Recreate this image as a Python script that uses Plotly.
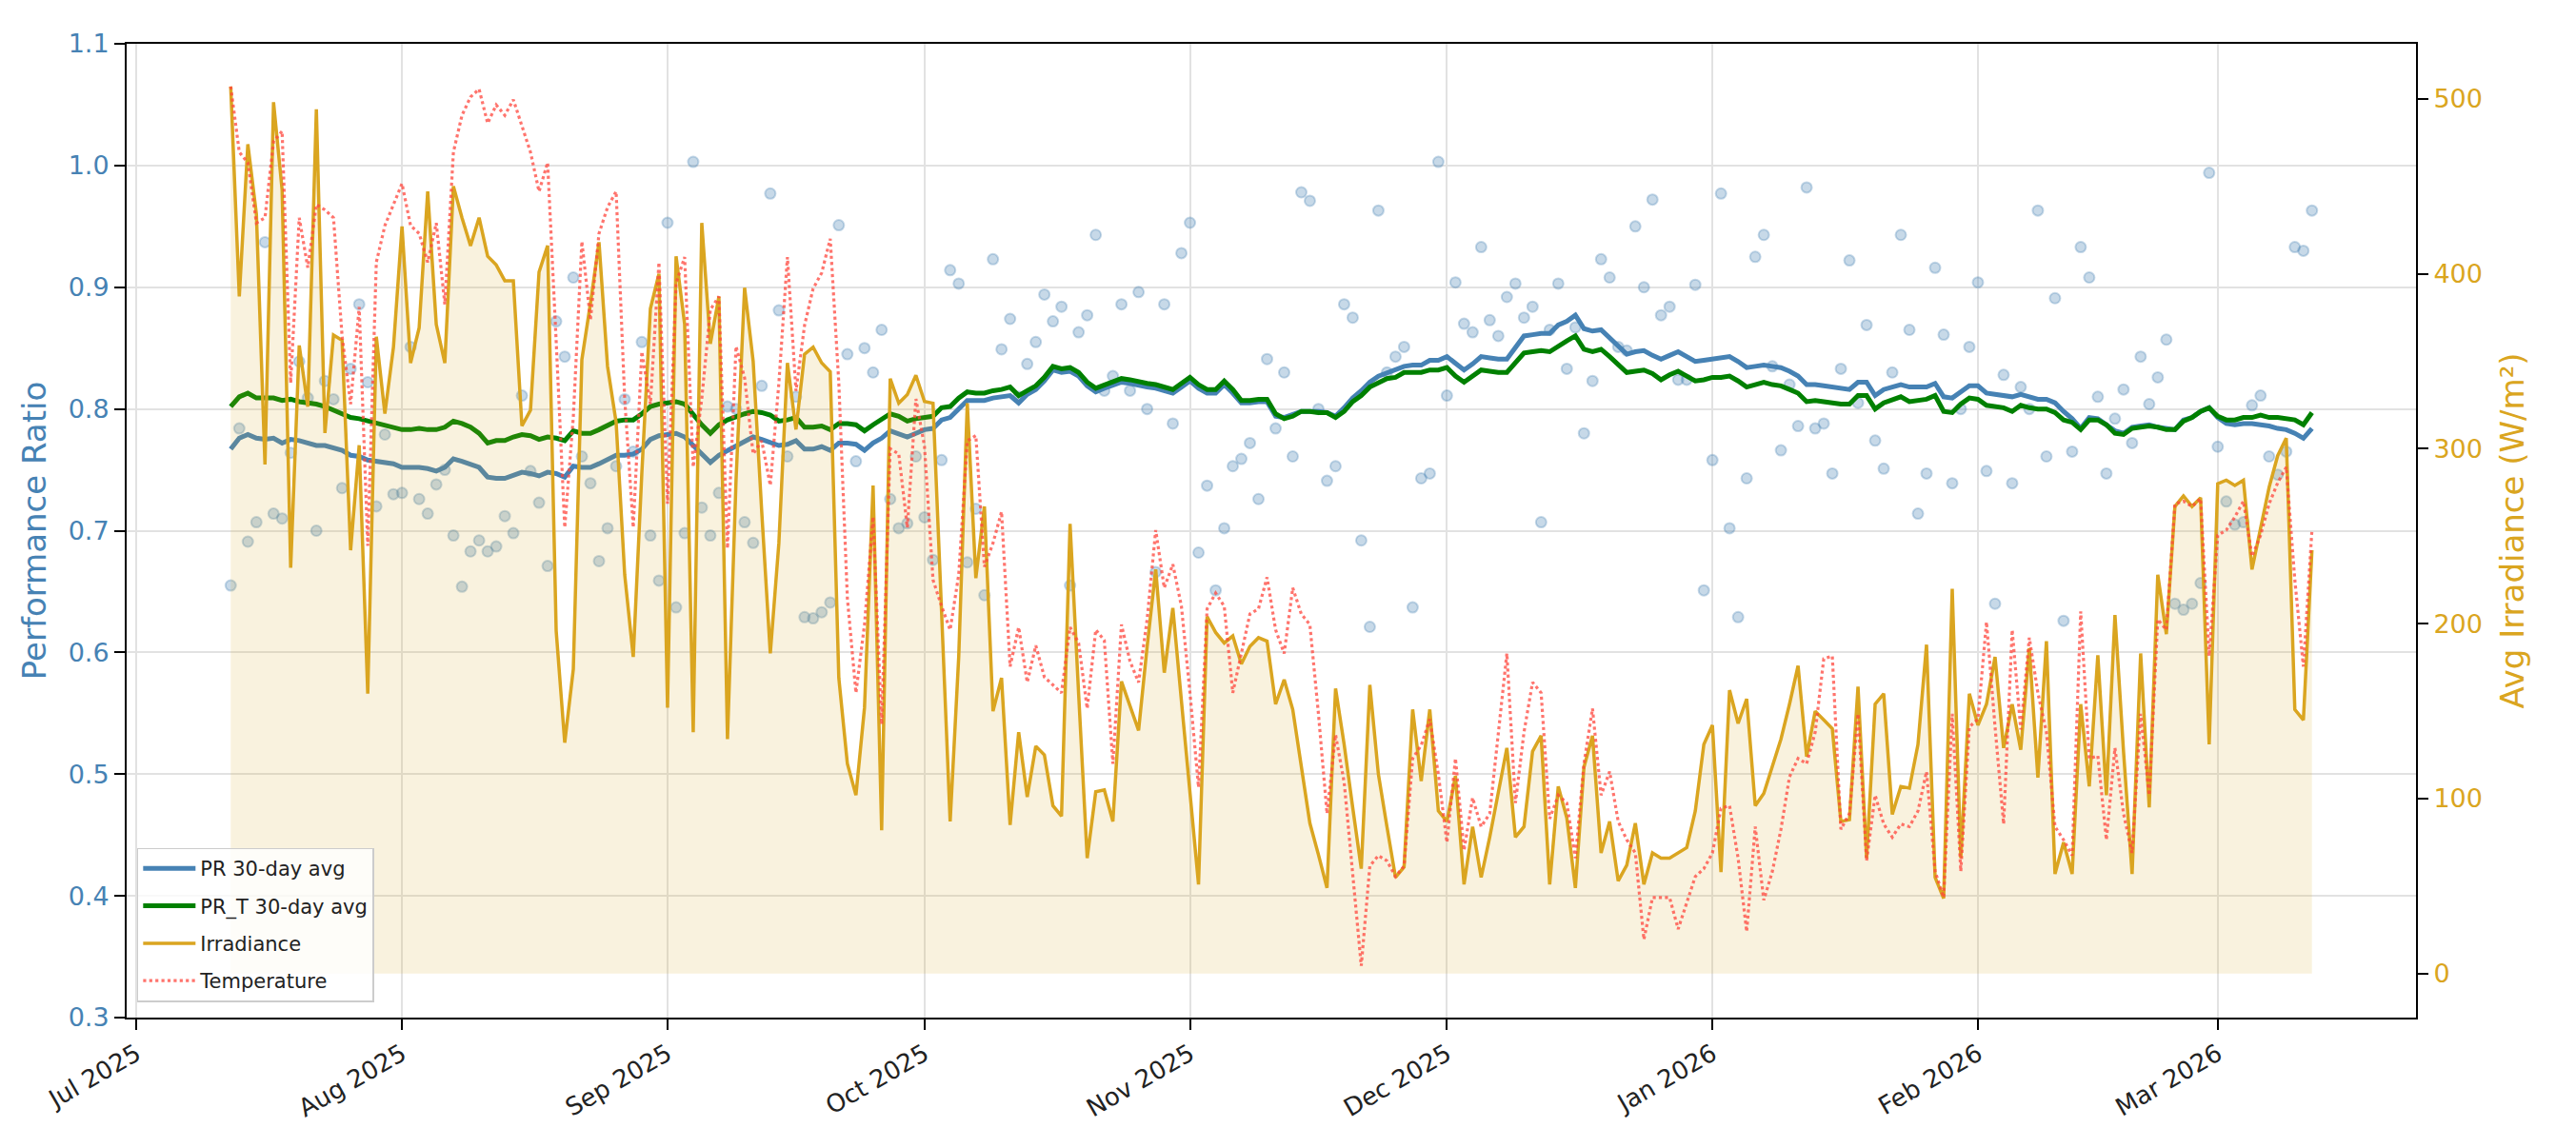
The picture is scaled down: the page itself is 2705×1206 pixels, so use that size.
import pandas as pd
import plotly.graph_objects as go

# ---------------- data ----------------
start_date = "2025-07-12"
n_days = 244
dates = pd.date_range(start_date, periods=n_days, freq="D")

pr_daily = [
    0.655, 0.784, 0.691, 0.707, 0.937, 0.714, 0.710, 0.764, 0.839, 0.809,
    0.700, 0.823, 0.808, 0.735, 0.833, 0.886, 0.822, 0.720, 0.779, 0.730,
    0.731, 0.851, 0.726, 0.714, 0.738, 0.750, 0.696, 0.654, 0.683, 0.692,
    0.683, 0.687, 0.712, 0.698, 0.811, 0.749, 0.723, 0.671, 0.872, 0.843,
    0.908, 0.761, 0.739, 0.675, 0.702, 0.753, 0.808, 0.765, 0.855, 0.696,
    0.659, 0.953, 0.637, 0.698, 1.003, 0.719, 0.696, 0.731, 0.802, 0.800,
    0.707, 0.690, 0.819, 0.977, 0.881, 0.761, 0.810, 0.629, 0.628, 0.633,
    0.641, 0.951, 0.845, 0.757, 0.850, 0.830, 0.865, 0.726, 0.702, 0.706,
    0.761, 0.711, 0.676, 0.758, 0.914, 0.903, 0.674, 0.718, 0.647, 0.923,
    0.849, 0.874, 0.810, 0.837, 0.855, 0.894, 0.872, 0.884, 0.655, 0.863,
    0.877, 0.943, 0.815, 0.827, 0.886, 0.815, 0.896, 0.800, 0.666, 0.886,
    0.788, 0.928, 0.953, 0.682, 0.737, 0.651, 0.702, 0.753, 0.759, 0.772,
    0.726, 0.841, 0.784, 0.830, 0.761, 0.978, 0.971, 0.800, 0.741, 0.753,
    0.886, 0.875, 0.692, 0.621, 0.963, 0.830, 0.843, 0.851, 0.637, 0.743,
    0.747, 1.003, 0.811, 0.904, 0.870, 0.863, 0.933, 0.873, 0.860, 0.892,
    0.903, 0.875, 0.884, 0.707, 0.865, 0.903, 0.833, 0.867, 0.780, 0.823,
    0.923, 0.908, 0.851, 0.848, 0.950, 0.900, 0.972, 0.877, 0.884, 0.824,
    0.824, 0.902, 0.651, 0.758, 0.977, 0.702, 0.629, 0.743, 0.925, 0.943,
    0.835, 0.766, 0.820, 0.786, 0.982, 0.784, 0.788, 0.747, 0.833, 0.922,
    0.805, 0.869, 0.774, 0.751, 0.830, 0.943, 0.865, 0.714, 0.747, 0.916,
    0.861, 0.739, 0.800, 0.851, 0.904, 0.749, 0.640, 0.828, 0.739, 0.818,
    0.800, 0.963, 0.761, 0.891, 0.626, 0.765, 0.933, 0.908, 0.810, 0.747,
    0.792, 0.816, 0.772, 0.843, 0.804, 0.826, 0.857, 0.640, 0.635, 0.640,
    0.657, 0.994, 0.769, 0.724, 0.705, 0.707, 0.803, 0.811, 0.761, 0.746,
    0.765, 0.933, 0.930, 0.963,
]

pr_avg_30 = [
    0.767, 0.776, 0.779, 0.776, 0.775, 0.776, 0.772, 0.775, 0.774, 0.772,
    0.770, 0.770, 0.768, 0.766, 0.762, 0.761, 0.758, 0.757, 0.756, 0.755,
    0.752, 0.752, 0.752, 0.751, 0.749, 0.752, 0.759, 0.757, 0.755, 0.752,
    0.744, 0.743, 0.743, 0.746, 0.748, 0.747, 0.745, 0.748, 0.747, 0.744,
    0.753, 0.752, 0.752, 0.755, 0.758, 0.762, 0.762, 0.763, 0.767, 0.775,
    0.778, 0.779, 0.780, 0.777, 0.770, 0.762, 0.756, 0.762, 0.766, 0.770,
    0.773, 0.777, 0.775, 0.772, 0.770, 0.771, 0.774, 0.767, 0.767, 0.769,
    0.766, 0.772, 0.772, 0.771, 0.766, 0.772, 0.776, 0.782, 0.780, 0.777,
    0.780, 0.783, 0.784, 0.791, 0.793, 0.800, 0.807, 0.807, 0.807, 0.809,
    0.810, 0.811, 0.805, 0.812, 0.816, 0.823, 0.832, 0.830, 0.831, 0.827,
    0.819, 0.814, 0.817, 0.819, 0.822, 0.821, 0.819, 0.818, 0.817, 0.815,
    0.813, 0.818, 0.823, 0.817, 0.813, 0.813, 0.820, 0.813, 0.805, 0.805,
    0.806, 0.806, 0.794, 0.793, 0.795, 0.798, 0.798, 0.798, 0.797, 0.794,
    0.801, 0.809, 0.815, 0.822, 0.827, 0.830, 0.832, 0.835, 0.836, 0.836,
    0.840, 0.840, 0.843, 0.837, 0.832, 0.837, 0.843, 0.842, 0.841, 0.841,
    0.850, 0.860, 0.861, 0.862, 0.862, 0.869, 0.872, 0.877, 0.866, 0.864,
    0.865, 0.858, 0.852, 0.845, 0.847, 0.848, 0.844, 0.841, 0.844, 0.847,
    0.843, 0.839, 0.840, 0.841, 0.842, 0.843, 0.839, 0.834, 0.835, 0.836,
    0.835, 0.834, 0.831, 0.827, 0.820, 0.820, 0.819, 0.818, 0.817, 0.816,
    0.822, 0.822, 0.811, 0.816, 0.818, 0.820, 0.818, 0.818, 0.818, 0.821,
    0.810, 0.809, 0.814, 0.819, 0.819, 0.813, 0.812, 0.811, 0.810, 0.812,
    0.810, 0.808, 0.808, 0.805, 0.798, 0.792, 0.784, 0.793, 0.792, 0.787,
    0.782, 0.780, 0.785, 0.786, 0.787, 0.785, 0.784, 0.783, 0.791, 0.793,
    0.798, 0.801, 0.793, 0.788, 0.787, 0.788, 0.788, 0.787, 0.786, 0.784,
    0.783, 0.780, 0.776, 0.784,
]

pr_t_avg_30 = [
    0.802, 0.810, 0.813, 0.809, 0.809, 0.809, 0.807, 0.808, 0.806, 0.805,
    0.804, 0.802, 0.799, 0.796, 0.793, 0.792, 0.790, 0.789, 0.787, 0.785,
    0.783, 0.783, 0.784, 0.783, 0.783, 0.785, 0.790, 0.788, 0.785, 0.780,
    0.772, 0.774, 0.774, 0.777, 0.779, 0.778, 0.775, 0.777, 0.776, 0.774,
    0.782, 0.780, 0.780, 0.783, 0.787, 0.790, 0.791, 0.791, 0.796, 0.802,
    0.804, 0.805, 0.806, 0.804, 0.795, 0.787, 0.780, 0.787, 0.791, 0.793,
    0.796, 0.798, 0.797, 0.795, 0.790, 0.791, 0.793, 0.785, 0.785, 0.786,
    0.783, 0.788, 0.788, 0.787, 0.782, 0.787, 0.791, 0.796, 0.794, 0.790,
    0.792, 0.793, 0.794, 0.801, 0.802, 0.809, 0.814, 0.813, 0.813, 0.815,
    0.816, 0.818, 0.811, 0.815, 0.819, 0.826, 0.835, 0.833, 0.834, 0.830,
    0.822, 0.817, 0.820, 0.822, 0.825, 0.824, 0.822, 0.821, 0.820, 0.818,
    0.816, 0.821, 0.826, 0.820, 0.816, 0.816, 0.823, 0.816, 0.807, 0.807,
    0.808, 0.808, 0.796, 0.792, 0.794, 0.798, 0.798, 0.797, 0.797, 0.793,
    0.798, 0.806, 0.811, 0.818, 0.822, 0.825, 0.826, 0.830, 0.830, 0.830,
    0.832, 0.832, 0.834, 0.827, 0.822, 0.827, 0.832, 0.831, 0.830, 0.830,
    0.838, 0.846, 0.847, 0.848, 0.847, 0.852, 0.856, 0.860, 0.849, 0.847,
    0.849, 0.843, 0.836, 0.830, 0.831, 0.832, 0.829, 0.824, 0.828, 0.831,
    0.827, 0.823, 0.824, 0.826, 0.826, 0.827, 0.823, 0.818, 0.820, 0.822,
    0.820, 0.819, 0.816, 0.813, 0.806, 0.807, 0.806, 0.805, 0.804, 0.804,
    0.811, 0.811, 0.800, 0.805, 0.807, 0.810, 0.806, 0.807, 0.808, 0.811,
    0.798, 0.797, 0.804, 0.809, 0.808, 0.803, 0.802, 0.801, 0.798, 0.803,
    0.801, 0.800, 0.800, 0.797, 0.791, 0.789, 0.783, 0.791, 0.791, 0.787,
    0.780, 0.779, 0.784, 0.785, 0.786, 0.785, 0.783, 0.783, 0.790, 0.793,
    0.798, 0.801, 0.794, 0.791, 0.791, 0.793, 0.793, 0.795, 0.793, 0.793,
    0.792, 0.791, 0.787, 0.797,
]

irradiance = [
    507, 387, 474, 434, 291, 498, 448, 232, 359, 324,
    494, 309, 365, 362, 242, 302, 160, 364, 320, 358,
    427, 349, 369, 447, 371, 349, 450, 432, 416, 432,
    410, 405, 396, 396, 313, 322, 401, 416, 196, 132,
    174, 351, 383, 418, 347, 315, 228, 181, 286, 380,
    400, 152, 410, 371, 138, 429, 360, 387, 134, 282,
    392, 350, 264, 183, 246, 349, 311, 354, 358, 349,
    344, 169, 120, 102, 152, 279, 82, 340, 326, 331,
    342, 327, 326, 203, 87, 181, 326, 226, 267, 150,
    169, 85, 138, 101, 130, 125, 96, 90, 257, 160,
    66, 104, 105, 87, 167, 153, 139, 187, 231, 172,
    209, 156, 104, 51, 204, 195, 189, 193, 177, 187,
    192, 190, 154, 168, 151, 120, 86, 68, 49, 163,
    131, 95, 60, 165, 114, 84, 55, 61, 151, 110,
    151, 93, 87, 113, 51, 84, 55, 78, 104, 129,
    78, 84, 127, 136, 51, 107, 89, 49, 118, 136,
    69, 87, 53, 62, 86, 51, 69, 66, 66, 69,
    72, 93, 131, 142, 58, 162, 143, 157, 96, 103,
    118, 134, 154, 176, 124, 150, 145, 140, 87, 88,
    164, 66, 154, 160, 91, 107, 106, 131, 188, 55,
    43, 220, 66, 160, 142, 154, 181, 129, 154, 128,
    186, 112, 190, 57, 75, 57, 154, 107, 182, 102,
    205, 127, 57, 183, 95, 228, 194, 267, 273, 267,
    272, 131, 280, 282, 279, 282, 231, 255, 278, 296,
    306, 151, 145, 242,
]

temperature_c = [
    33.8, 31.3, 30.9, 28.6, 28.8, 31.7, 32.1, 22.5, 28.8, 26.9,
    29.3, 29.1, 28.8, 24.3, 21.7, 25.4, 16.3, 27.1, 28.5, 29.3,
    30.1, 28.5, 28.2, 27.1, 28.6, 25.5, 31.3, 32.7, 33.4, 33.7,
    32.4, 33.1, 32.7, 33.3, 32.3, 31.3, 29.8, 30.9, 24.1, 17.0,
    21.2, 27.9, 24.9, 28.2, 29.2, 29.8, 21.9, 17.0, 23.7, 21.7,
    27.1, 17.9, 26.3, 27.3, 19.3, 21.9, 25.3, 25.8, 16.2, 23.9,
    22.7, 19.8, 20.3, 18.6, 22.5, 27.3, 22.2, 24.7, 26.1, 26.7,
    28.0, 22.5, 14.3, 10.7, 13.3, 17.4, 9.5, 20.0, 19.8, 17.0,
    21.9, 20.1, 15.0, 14.0, 13.1, 15.2, 20.3, 20.5, 15.5, 16.4,
    17.6, 11.7, 13.2, 11.1, 12.5, 11.3, 11.0, 10.7, 13.2, 12.6,
    10.1, 13.1, 12.7, 8.0, 13.3, 11.9, 11.1, 13.5, 16.9, 14.7,
    15.6, 14.0, 10.7, 7.1, 13.9, 14.5, 14.0, 10.7, 12.2, 13.7,
    13.9, 15.1, 13.1, 12.2, 14.7, 13.7, 13.3, 9.9, 6.1, 9.1,
    7.3, 3.9, 0.3, 4.1, 4.5, 4.3, 3.7, 4.1, 8.2, 8.7,
    9.7, 7.6, 5.0, 8.2, 4.7, 6.7, 5.6, 6.1, 9.2, 12.2,
    6.5, 9.2, 11.1, 10.7, 5.9, 6.8, 6.5, 4.4, 8.0, 10.1,
    6.8, 7.7, 5.8, 5.1, 4.6, 1.3, 2.9, 2.9, 2.9, 1.7,
    2.7, 3.7, 4.0, 4.6, 6.3, 6.4, 4.4, 1.6, 5.6, 2.8,
    3.9, 5.5, 7.5, 8.2, 8.0, 9.2, 12.0, 12.1, 5.5, 6.1,
    9.9, 4.3, 6.8, 5.7, 5.2, 5.7, 5.6, 6.2, 7.7, 3.9,
    2.9, 9.9, 3.9, 9.4, 9.7, 13.4, 9.4, 5.7, 13.1, 9.3,
    12.8, 10.7, 9.2, 5.6, 5.1, 4.5, 13.8, 8.2, 8.3, 5.1,
    8.6, 6.1, 4.6, 9.9, 6.8, 13.5, 13.1, 17.9, 18.0, 17.8,
    18.1, 12.1, 16.7, 16.9, 17.4, 18.0, 15.9, 16.7, 17.9, 18.7,
    19.3, 15.0, 11.7, 16.9,
]

month_ticks = ["2025-07-01", "2025-08-01", "2025-09-01", "2025-10-01", "2025-11-01",
               "2025-12-01", "2026-01-01", "2026-02-01", "2026-03-01"]
month_labels = ["Jul 2025", "Aug 2025", "Sep 2025", "Oct 2025", "Nov 2025",
                "Dec 2025", "Jan 2026", "Feb 2026", "Mar 2026"]
pr_ticks = [0.3, 0.4, 0.5, 0.6, 0.7, 0.8, 0.9, 1.0, 1.1]
irr_ticks = [0, 100, 200, 300, 400, 500]

# ---------------- styling ----------------
FONT = "DejaVu Sans"
STEEL = "#4682B4"
GOLD = "#DAA520"
GRID = "#e2e2e2"

fig = go.Figure()

fig.add_trace(go.Scatter(
    x=dates, y=pr_daily, mode="markers", showlegend=False, yaxis="y",
    marker=dict(size=11, color="rgba(70,130,180,0.3)",
                line=dict(color="rgba(70,130,180,0.3)", width=2)),
))
fig.add_trace(go.Scatter(
    x=dates, y=pr_avg_30, mode="lines", name="PR 30-day avg", yaxis="y",
    legendgroup="a", line=dict(color=STEEL, width=5),
))
fig.add_trace(go.Scatter(
    x=dates, y=pr_t_avg_30, mode="lines", name="PR_T 30-day avg", yaxis="y",
    legendgroup="b", line=dict(color="green", width=5),
))
fig.add_trace(go.Scatter(
    x=dates, y=irradiance, mode="lines", showlegend=False, yaxis="y2",
    fill="tozeroy", fillcolor="rgba(218,165,32,0.15)", line=dict(width=0),
    hoverinfo="skip",
))
fig.add_trace(go.Scatter(
    x=dates, y=irradiance, mode="lines", name="Irradiance", yaxis="y2",
    legendgroup="c", line=dict(color=GOLD, width=3.5),
))
fig.add_trace(go.Scatter(
    x=dates, y=temperature_c, mode="lines", name="Temperature", yaxis="y3",
    legendgroup="d", line=dict(color="rgba(255,70,60,0.75)", width=3.2, dash="dot"),
))

axis_common = dict(showline=True, linecolor="black", linewidth=2,
                   ticks="outside", ticklen=11, tickwidth=2, tickcolor="black",
                   zeroline=False)

fig.update_layout(
    width=2705, height=1206,
    margin=dict(l=133, r=168, t=46, b=137, autoexpand=False),
    paper_bgcolor="white", plot_bgcolor="white",
    font=dict(family=FONT, size=26, color="#222222"),
    xaxis=dict(
        type="date",
        range=["2025-06-29 20:24", "2026-03-24 03:36"],
        tickvals=month_ticks, ticktext=month_labels, tickangle=-30,
        tickfont=dict(size=26, color="#222222"),
        showgrid=True, gridcolor=GRID, gridwidth=1.5, mirror=True,
        **axis_common,
    ),
    yaxis=dict(
        range=[0.3, 1.1], tickvals=pr_ticks, tickformat=".1f",
        tickfont=dict(size=27, color=STEEL),
        title=dict(text="Performance Ratio", font=dict(size=34, color=STEEL), standoff=13),
        showgrid=True, gridcolor=GRID, gridwidth=1.5,
        **axis_common,
    ),
    yaxis2=dict(
        overlaying="y", side="right", anchor="x",
        range=[-25.1, 531.4], tickvals=irr_ticks,
        tickfont=dict(size=27, color=GOLD),
        title=dict(text="Avg Irradiance (W/m²)", font=dict(size=34, color=GOLD), standoff=20),
        showgrid=False,
        **axis_common,
    ),
    yaxis3=dict(
        overlaying="y", anchor="x", visible=False,
        range=[-1.673, 35.427], showgrid=False, zeroline=False,
    ),
    legend=dict(
        x=0.0045, y=0.016, xanchor="left", yanchor="bottom",
        bgcolor="rgba(255,255,255,0.8)", bordercolor="#cccccc", borderwidth=1.5,
        font=dict(family=FONT, size=21, color="#222222"),
        tracegroupgap=9, itemwidth=55,
    ),
    showlegend=True,
)

fig.write_html(
    "out.html",
    config={"displayModeBar": False},
    post_script="document.body.style.margin='0';document.body.style.overflow='hidden';",
)
